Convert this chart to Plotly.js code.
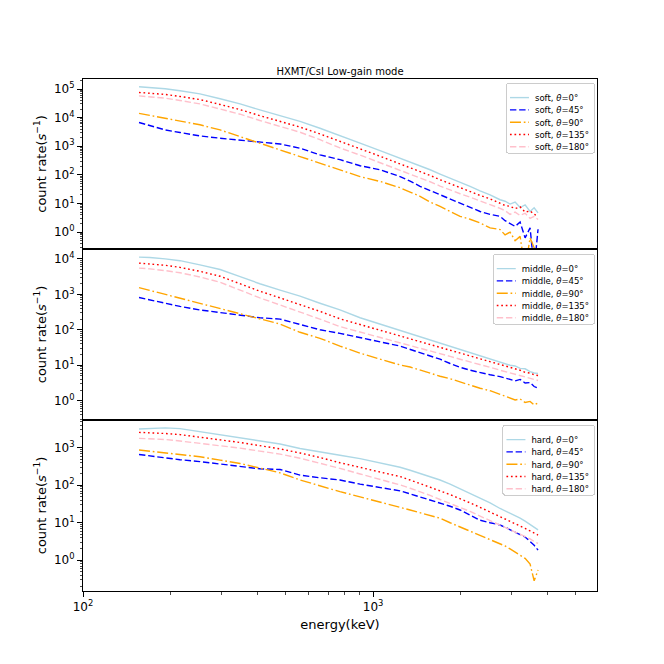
<!DOCTYPE html>
<html><head><meta charset="utf-8">
<script src="https://cdn.plot.ly/plotly-3.0.1.min.js"></script>
<style>html,body{margin:0;padding:0;background:#fff}#chart{width:664px;height:664px}</style>
</head><body><div id="chart"></div>
<script>
// ---- data ----
const energy = [156,170,192,216,253,297,348,407,478,560,656,769,902,1057,1239,1342,1452,1573,1702,1843,1995,2160,2338,2532,2741,2852,2967,3088,3213,3343,3478,3592,3705];

const softTheta0   = [120200,114800,102300,87100,67600,45700,30200,18620,12020,7413,4266,2291,1288,708,389,288,209,151,107,77.6,55.0,39.8,27.5,20.0,13.5,12.0,9.55,11.2,7.24,8.91,5.25,7.08,4.68];
const softTheta45  = [6761,5248,3715,3020,2291,1905,1660,1445,1202,851,501,339,209,151,87.1,60.3,39.8,28.2,20.4,14.5,10.5,7.41,5.25,4.17,3.55,2.51,2.00,1.58,2.24,0.63,1.41,0.05,1.26];
const softTheta90  = [14130,12020,9333,7413,5623,3715,2138,1259,741,437,257,145,87.1,58.9,35.5,25.1,17.8,11.2,7.94,5.25,3.55,2.82,2.09,1.41,1.23,0.794,1.00,0.501,0.708,0.05,0.631,0.282,0.05];
const softTheta135 = [75860,72440,64570,54950,42660,28840,19050,11750,7586,4677,2692,1445,813,447,245,182,132,95.5,67.6,49.0,34.7,26.3,19.1,14.5,10.2,8.51,7.94,6.61,7.59,5.01,5.50,4.17,3.55];
const softTheta180 = [57540,53700,47860,39810,30200,19950,13180,7943,5012,3090,1698,871,490,269,148,110,79.4,57.5,40.7,29.5,21.9,16.6,12.0,9.12,6.76,5.62,4.17,5.01,3.80,4.57,3.02,3.55,2.75];

const middleTheta0   = [11220,10960,10000,8913,6761,5012,3162,1995,1318,891,562,363,219,145,97.7,79.4,64.6,52.5,42.7,34.7,28.2,22.9,18.6,15.1,12.3,11.2,10.0,9.55,8.13,7.94,6.61,6.03,5.89];
const middleTheta45  = [813,692,550,457,363,302,251,219,200,141,100,79.4,61.7,45.7,34.7,28.2,22.4,18.2,14.8,11.2,8.71,7.24,6.17,5.37,4.79,4.37,4.17,3.63,3.98,3.16,3.24,2.51,2.24];
const middleTheta90  = [1549,1288,1000,776,550,389,275,204,145,85.1,57.5,34.7,21.9,14.8,10.2,8.91,7.24,6.03,4.90,4.17,3.31,2.75,2.24,1.91,1.51,1.32,1.20,1.05,1.12,0.891,0.955,0.759,0.871];
const middleTheta135 = [7586,7244,6607,5754,4467,3236,1995,1230,794,525,331,204,141,97.7,66.1,55.0,45.7,38.0,31.6,26.3,21.9,18.2,15.1,12.6,10.5,9.55,8.51,7.94,7.24,6.31,6.03,5.37,5.13];
const middleTheta180 = [5495,5248,4677,4074,3090,2188,1318,794,501,324,200,123,87.1,60.3,42.7,35.5,30.2,25.1,21.4,17.8,14.8,12.6,10.5,8.71,7.24,6.61,6.03,5.62,5.13,4.57,4.37,3.98,3.72];

const hardTheta0   = [3162,3311,3388,3236,2692,2239,1905,1549,1259,955,759,631,513,398,302,251,209,170,138,107,81.3,61.7,46.8,33.9,24.0,20.9,17.8,15.5,13.2,11.0,9.12,7.59,6.46];
const hardTheta45  = [661,603,525,479,427,363,309,275,263,186,158,138,107,87.1,70.8,58.9,49.0,40.7,33.9,27.5,21.9,16.2,11.7,10.0,8.71,7.59,6.61,5.75,5.01,4.17,3.16,2.51,1.86];
const hardTheta90  = [871,813,724,661,575,468,380,288,214,138,95.5,67.6,49.0,36.3,25.7,21.9,18.6,15.8,13.2,10.0,7.76,6.03,4.68,3.63,2.82,2.40,2.00,1.66,1.38,1.12,0.794,0.282,0.550];
const hardTheta135 = [2570,2512,2399,2239,1950,1622,1380,1148,933,724,550,398,302,229,170,138,112,89.1,70.8,56.2,44.7,33.9,25.7,19.5,14.5,12.6,11.0,9.33,8.13,7.08,6.03,5.25,4.68];
const hardTheta180 = [1778,1738,1660,1514,1318,1148,977,813,676,525,389,282,200,145,102,83.2,67.6,53.7,41.7,33.1,25.7,20.0,15.1,11.5,8.71,7.59,6.61,5.75,5.01,4.27,3.72,3.16,2.82];

const bands  = ['soft','middle','hard'];
const angles = ['0','45','90','135','180'];
const xTickVals = [100, 1000];
const xTickText = ['10<sup>2</sup>','10<sup>3</sup>'];
const titleText = 'HXMT/CsI Low-gain mode';

// ---- styles ----
const seriesByBand = {
  soft:   [softTheta0, softTheta45, softTheta90, softTheta135, softTheta180],
  middle: [middleTheta0, middleTheta45, middleTheta90, middleTheta135, middleTheta180],
  hard:   [hardTheta0, hardTheta45, hardTheta90, hardTheta135, hardTheta180]
};
const colors = ['#add8e6','#0000ff','#ffa500','#ff0000','#ffc0cb'];
const dashes = ['solid','6.4px,2.8px','11px,2.8px,1.7px,2.8px','1.7px,2.8px','6.4px,2.8px'];
const axisIds = [['x','y','legend'],['x2','y2','legend2'],['x3','y3','legend3']];

const traces = [];
bands.forEach((b, bi) => {
  seriesByBand[b].forEach((vals, ai) => {
    traces.push({
      type: 'scatter', mode: 'lines',
      x: energy, y: vals,
      xaxis: axisIds[bi][0], yaxis: axisIds[bi][1], legend: axisIds[bi][2],
      name: b + ', <i>θ</i>=' + angles[ai] + '°',
      line: {color: colors[ai], width: 1.4, dash: dashes[ai]}
    });
  });
});

function minorVals(lo, hi) {
  const v = [];
  for (let d = lo; d <= hi; d++) for (let k = 2; k <= 9; k++) v.push(k * Math.pow(10, d));
  return v;
}
function decades(lo, hi) { const v = []; for (let d = lo; d <= hi; d++) v.push(Math.pow(10, d)); return v; }
function decadeText(lo, hi) { const v = []; for (let d = lo; d <= hi; d++) v.push('10<sup>' + (d < 0 ? '−' + (-d) : d) + '</sup>'); return v; }

const FONT = 'DejaVu Sans';
const LEG_FONT_SIZE = 8.5;
const frame = {showline: true, linecolor: '#000', linewidth: 1, mirror: true, showgrid: false, zeroline: false};

function yAxis(domain, range, hi) {
  return Object.assign({}, frame, {
    type: 'log', domain: domain, range: range,
    tickmode: 'array', tickvals: decades(0, hi), ticktext: decadeText(0, hi),
    ticks: 'outside', ticklen: 5, tickwidth: 1, tickcolor: '#000',
    tickfont: {family: FONT, size: 12, color: '#000'},
    minor: {tickmode: 'array', tickvals: minorVals(-1, hi), ticks: 'outside', ticklen: 2.5, tickwidth: 0.7, tickcolor: '#000'},
    title: {text: 'count rate(<i>s</i><sup>−1</sup>)', font: {family: FONT, size: 13, color: '#000'}, standoff: 4}
  });
}
const xRange = [2, 3.772];
function xAxis(anchor, labels) {
  const a = Object.assign({}, frame, {type: 'log', range: xRange, anchor: anchor});
  if (labels) {
    Object.assign(a, {
      tickmode: 'array', tickvals: xTickVals, ticktext: xTickText,
      ticks: 'outside', ticklen: 5, tickwidth: 1, tickcolor: '#000',
      tickfont: {family: FONT, size: 12, color: '#000'},
      minor: {tickmode: 'array', tickvals: minorVals(2, 3).filter(v => v < 6000), ticks: 'outside', ticklen: 2.5, tickwidth: 0.7, tickcolor: '#000'},
      title: {text: 'energy(keV)', font: {family: FONT, size: 13, color: '#000'}, standoff: 6}
    });
  } else {
    Object.assign(a, {matches: 'x3', showticklabels: false, ticks: ''});
  }
  return a;
}
function legendAt(y) {
  return {x: 0.993, xanchor: 'right', y: y, yanchor: 'top',
    font: {family: FONT, size: LEG_FONT_SIZE, color: '#000'},
    bgcolor: 'rgba(255,255,255,0.85)', bordercolor: '#cccccc', borderwidth: 1,
    itemwidth: 30, tracegroupgap: 0};
}

const layout = {
  width: 664, height: 664,
  margin: {l: 83, r: 67, t: 79, b: 73},
  paper_bgcolor: '#fff', plot_bgcolor: '#fff',
  font: {family: FONT, size: 12, color: '#000'},
  title: {text: titleText, font: {family: FONT, size: 10, color: '#000'}, x: 0.5, xref: 'paper', xanchor: 'center', y: 1, yref: 'paper', yanchor: 'bottom', pad: {b: 4}},
  showlegend: true,
  xaxis: xAxis('y', false),
  xaxis2: xAxis('y2', false),
  xaxis3: xAxis('y3', true),
  yaxis: yAxis([0.668, 1], [-0.59, 5.35], 5),
  yaxis2: yAxis([0.334, 0.668], [-0.545, 4.28], 4),
  yaxis3: yAxis([0, 0.334], [-0.82, 3.74], 3),
  legend: legendAt(0.992),
  legend2: legendAt(0.658),
  legend3: legendAt(0.324)
};

// legend box geometry (px) like the reference: right edge, row step, sample, text start
const LEG_RIGHT = 594, STEP = 12.3, SAMPLE_X = 3, SAMPLE_LEN = 19, TEXTX = 28, PAD_R = 6, TRIM_H = 3;
function parseT(el) {
  const m = /translate\(\s*([-\d.e]+)[ ,]+([-\d.e]+)\s*\)/.exec(el.getAttribute('transform') || '');
  return m ? [parseFloat(m[1]), parseFloat(m[2])] : [0, 0];
}
function compactLegends(gd) {
  ['legend', 'legend2', 'legend3'].forEach(id => {
    const lg = gd.querySelector('g.' + id);
    if (!lg) return;
    const items = Array.from(lg.querySelectorAll('g.traces'));
    if (items.length < 2) return;
    const bg = lg.querySelector('rect.bg');
    if (!lg.dataset.y0) {
      const p0 = parseT(items[0]), p1 = parseT(items[1]);
      lg.dataset.x0 = p0[0]; lg.dataset.y0 = p0[1]; lg.dataset.step = p1[1] - p0[1];
      lg.dataset.h = bg ? bg.getAttribute('height') : 0;
    }
    const x0 = +lg.dataset.x0, y0 = +lg.dataset.y0, orig = +lg.dataset.step, h = +lg.dataset.h;
    let maxW = 0;
    items.forEach((it, i) => {
      it.setAttribute('transform', 'translate(' + x0 + ',' + (y0 - 1 + i * STEP) + ')');
      it.querySelectorAll('path.js-line').forEach(pa => pa.setAttribute('d', 'M' + SAMPLE_X + ',0h' + SAMPLE_LEN));
      const tx = it.querySelector('text.' + id + 'text');
      if (tx) {
        tx.setAttribute('x', TEXTX);
        tx.querySelectorAll('tspan[x]').forEach(ts => ts.setAttribute('x', TEXTX));
        const bb = tx.getBBox();
        maxW = Math.max(maxW, bb.width);
      }
    });
    const newW = TEXTX + maxW + PAD_R;
    if (bg) {
      bg.setAttribute('height', h - (orig - STEP) * items.length - TRIM_H);
      bg.setAttribute('width', newW);
      bg.setAttribute('rx', 2); bg.setAttribute('ry', 2);
    }
    const lp = parseT(lg);
    lg.setAttribute('transform', 'translate(' + (LEG_RIGHT - newW) + ',' + lp[1] + ')');
  });
}

Plotly.newPlot('chart', traces, layout, {staticPlot: true, displayModeBar: false}).then(gd => {
  compactLegends(gd);
});
</script>
</body></html>
